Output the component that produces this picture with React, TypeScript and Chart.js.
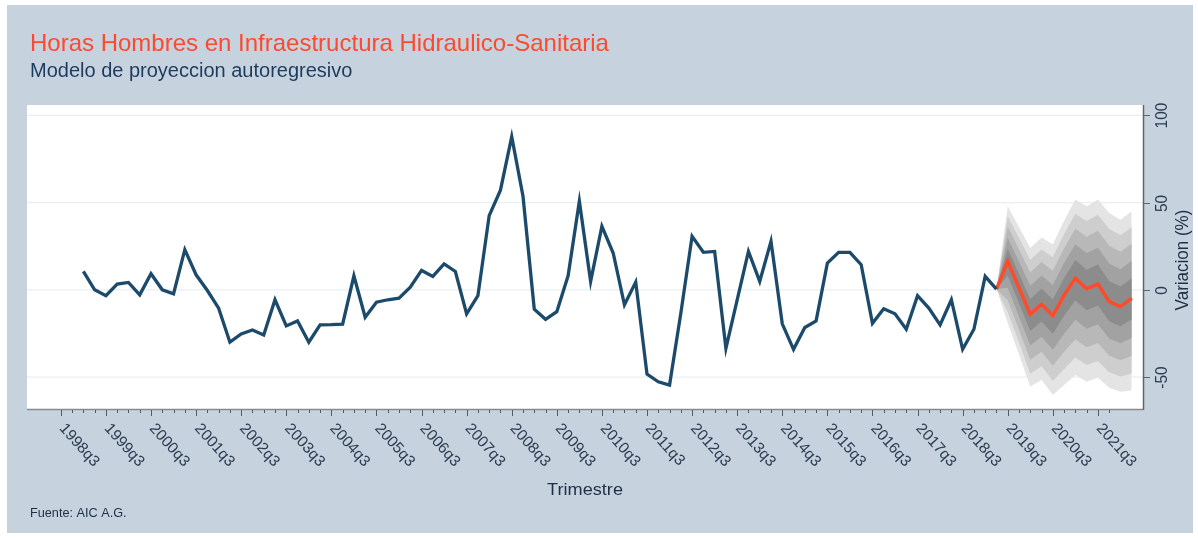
import React, { useEffect, useRef } from "react";
import { Chart, registerables } from "chart.js";

Chart.register(...registerables);

// ---------- texts ----------
const titleText = "Horas Hombres en Infraestructura Hidraulico-Sanitaria";
const subtitleText = "Modelo de proyeccion autoregresivo";
const sourceText = "Fuente: AIC A.G.";
const xAxisTitle = "Trimestre";
const yAxisTitle = "Variacion (%)";

// ---------- axes ----------
const axisStart = "1997q4";
const axisEnd = "2022q3";
const minorTickStart = "1998q3";
const minorTickEnd = "2021q4";
const xTickLabels = [
  "1998q3", "1999q3", "2000q3", "2001q3", "2002q3", "2003q3", "2004q3", "2005q3",
  "2006q3", "2007q3", "2008q3", "2009q3", "2010q3", "2011q3", "2012q3", "2013q3",
  "2014q3", "2015q3", "2016q3", "2017q3", "2018q3", "2019q3", "2020q3", "2021q3",
];
const yTickValues = [-50, 0, 50, 100];
const yMin = -68.3;
const yMax = 105.9;

// ---------- observed series (quarterly, from 1999q1 to 2019q2) ----------
const historyStart = "1999q1";
const historyValues = [
  10.5, 0, -3.4, 3.3, // 1999
  4.2, -2.9, 9.2, 0, // 2000
  -2.3, 23, 8.6, -0.4, // 2001
  -10.5, -30, -25.3, -23, // 2002
  -25.9, -5.7, -20.7, -17.8, // 2003
  -30, -20.1, -20, -19.7, // 2004
  8, -15.7, -7.1, -5.7, // 2005
  -4.8, 1.5, 11.1, 7.7, // 2006
  14.9, 10.5, -13.8, -3.4, // 2007
  42.5, 57.1, 87.7, 53.6, // 2008
  -11.1, -16.9, -12.5, 8, // 2009
  50.8, 4.8, 36.4, 21.1, // 2010
  -8.6, 4.4, -48.3, -52.7, // 2011
  -54.6, -13.4, 30.7, 21.5, // 2012
  22, -33.5, -5.7, 22, // 2013
  4.8, 27.8, -19.5, -34.1, // 2014
  -21.6, -17.8, 15.3, 21.5, // 2015
  21.5, 14.4, -19.2, -10.9, // 2016
  -13.7, -22.6, -3.4, -10.5, // 2017
  -20.1, -5.7, -34.1, -22.6, // 2018
  7.7, 0.4, // 2019
];

// ---------- forecast (from 2019q2 to 2022q2) ----------
const forecastStart = "2019q2";
const forecastValues = [0.4, 16.3, 1.1, -14, -8.2, -14.8, -3, 6.7, 0.6, 3.3, -6.7, -9.6, -4.8];
const fanUpper = [0.4, 47.9, 36, 24, 30, 26, 39.6, 51.7, 47.9, 51.7, 44, 40.2, 45];
const fanLower = [0.4, -19, -37, -55.6, -51.6, -60.3, -54.6, -48.8, -52.7, -50.4, -56.1, -58.4, -57.5];
// share of the outer band half-width, inner to outer
const fanLevels = [0.23, 0.43, 0.63, 0.82, 1];
const fanColors = ["#8c8c8c", "#a2a2a2", "#b8b8b8", "#cecece", "#e4e4e4"];

// ---------- style ----------
const pageBg = "#ffffff";
const panelBg = "#c6d3df";
const historyColor = "#1c4a6b";
const forecastColor = "#ff4b2b";
const titleColor = "#fb4a2d";
const subtitleColor = "#1d3b5e";
const textColor = "#2c3b50";
const STRETCH = 1.1;

function qIndex(label: string): number {
  const [y, q] = label.split("q").map(Number);
  return y * 4 + (q - 1);
}

function drawStretched(
  ctx: CanvasRenderingContext2D,
  text: string,
  x: number,
  y: number,
  rotation = 0,
  sx = STRETCH
) {
  ctx.save();
  ctx.translate(x, y);
  ctx.scale(sx, 1);
  if (rotation) ctx.rotate(rotation);
  ctx.fillText(text, 0, 0);
  ctx.restore();
}

const FONT = "'Liberation Sans', Arial, Helvetica, sans-serif";

const decorPlugin = {
  id: "decor",
  beforeDraw(chart: any) {
    const { ctx, chartArea, scales } = chart;
    ctx.save();
    ctx.fillStyle = pageBg;
    ctx.fillRect(0, 0, chart.width, chart.height);
    ctx.fillStyle = panelBg;
    ctx.fillRect(7, 5, chart.width - 12, chart.height - 10);
    ctx.fillStyle = "#ffffff";
    ctx.fillRect(chartArea.left, chartArea.top, chartArea.right - chartArea.left, chartArea.bottom - chartArea.top);
    // grid lines
    ctx.strokeStyle = "#e8eff3";
    ctx.lineWidth = 1.3;
    for (const v of yTickValues) {
      const y = scales.y.getPixelForValue(v);
      ctx.beginPath();
      ctx.moveTo(chartArea.left, y);
      ctx.lineTo(chartArea.right, y);
      ctx.stroke();
    }
    ctx.restore();
  },
  afterDraw(chart: any) {
    const { ctx, chartArea, scales } = chart;
    const xs = scales.x;
    const ys = scales.y;
    ctx.save();
    // x axis line
    ctx.strokeStyle = "#8a8a8a";
    ctx.lineWidth = 1.5;
    ctx.beginPath();
    ctx.moveTo(chartArea.left, chartArea.bottom + 0.5);
    ctx.lineTo(chartArea.right, chartArea.bottom + 0.5);
    ctx.stroke();
    // x ticks
    ctx.strokeStyle = "#555b63";
    ctx.lineWidth = 1;
    const majorSet = new Set(xTickLabels.map(qIndex));
    for (let q = qIndex(minorTickStart); q <= qIndex(minorTickEnd); q++) {
      const x = Math.round(xs.getPixelForValue(q)) + 0.5;
      const len = majorSet.has(q) ? 6 : 3;
      ctx.beginPath();
      ctx.moveTo(x, chartArea.bottom + 1);
      ctx.lineTo(x, chartArea.bottom + 1 + len);
      ctx.stroke();
    }
    // x labels
    ctx.fillStyle = textColor;
    ctx.font = `15.5px ${FONT}`;
    ctx.textAlign = "left";
    ctx.textBaseline = "middle";
    for (const lab of xTickLabels) {
      const x = xs.getPixelForValue(qIndex(lab));
      drawStretched(ctx, lab, x + 1, chartArea.bottom + 17, (48 * Math.PI) / 180, 1.0);
    }
    // y axis line
    ctx.strokeStyle = "#5f646b";
    ctx.lineWidth = 1.5;
    ctx.beginPath();
    ctx.moveTo(chartArea.right + 0.5, chartArea.top);
    ctx.lineTo(chartArea.right + 0.5, chartArea.bottom + 1);
    ctx.stroke();
    // y ticks and labels
    ctx.lineWidth = 1;
    ctx.font = `15.5px ${FONT}`;
    ctx.textAlign = "center";
    ctx.textBaseline = "middle";
    for (const v of yTickValues) {
      const y = Math.round(ys.getPixelForValue(v)) + 0.5;
      ctx.beginPath();
      ctx.moveTo(chartArea.right, y);
      ctx.lineTo(chartArea.right + 7, y);
      ctx.stroke();
      drawStretched(ctx, String(v), chartArea.right + 19, y, -Math.PI / 2);
    }
    // axis titles
    ctx.fillStyle = "#1f2f45";
    ctx.font = `17px ${FONT}`;
    drawStretched(ctx, yAxisTitle, chartArea.right + 40, (chartArea.top + chartArea.bottom) / 2 + 3, -Math.PI / 2);
    ctx.font = `16.5px ${FONT}`;
    ctx.textBaseline = "alphabetic";
    drawStretched(ctx, xAxisTitle, 585, 495);
    // titles
    ctx.textAlign = "left";
    ctx.fillStyle = titleColor;
    ctx.font = `24px ${FONT}`;
    drawStretched(ctx, titleText, 30, 51, 0, 1.0);
    ctx.fillStyle = subtitleColor;
    ctx.font = `20px ${FONT}`;
    drawStretched(ctx, subtitleText, 30, 77, 0, 1.0);
    ctx.fillStyle = "#1f2f45";
    ctx.font = `12.7px ${FONT}`;
    drawStretched(ctx, sourceText, 30, 517, 0, 1.0);
    ctx.restore();
  },
};

export default function App() {
  const canvasRef = useRef<HTMLCanvasElement | null>(null);

  useEffect(() => {
    const canvas = canvasRef.current;
    if (!canvas) return;
    const hs = qIndex(historyStart);
    const fs = qIndex(forecastStart);

    const bandSets: any[] = [];
    fanLevels.forEach((lvl, k) => {
      bandSets.push({
        data: forecastValues.map((c, i) => ({ x: fs + i, y: c + lvl * (fanUpper[i] - c) })),
        borderColor: "rgba(0,0,0,0)",
        borderWidth: 0,
        pointRadius: 0,
        backgroundColor: fanColors[k],
        fill: "+1",
      });
      bandSets.push({
        data: forecastValues.map((c, i) => ({ x: fs + i, y: c - lvl * (c - fanLower[i]) })),
        borderColor: "rgba(0,0,0,0)",
        borderWidth: 0,
        pointRadius: 0,
        fill: false,
      });
    });

    const chart = new Chart(canvas, {
      type: "line",
      data: {
        datasets: [
          {
            data: historyValues.map((v, i) => ({ x: hs + i, y: v })),
            borderColor: historyColor,
            borderWidth: 3.3,
            pointRadius: 0,
            fill: false,
          },
          {
            data: forecastValues.map((v, i) => ({ x: fs + i, y: v })),
            borderColor: forecastColor,
            borderWidth: 3.5,
            pointRadius: 0,
            fill: false,
          },
          ...bandSets,
        ],
      },
      options: {
        animation: false,
        responsive: false,
        maintainAspectRatio: false,
        devicePixelRatio: 1,
        layout: { padding: { left: 27, right: 55, top: 105, bottom: 129 } },
        plugins: {
          legend: { display: false },
          tooltip: { enabled: false },
          title: { display: false },
        },
        elements: { line: { tension: 0 }, point: { radius: 0 } },
        scales: {
          x: { type: "linear", min: qIndex(axisStart), max: qIndex(axisEnd), display: false },
          y: { type: "linear", min: yMin, max: yMax, display: false },
        },
      },
      plugins: [decorPlugin],
    });
    return () => chart.destroy();
  }, []);

  return (
    <div style={{ position: "fixed", left: 0, top: 0, width: 1198, height: 538 }}>
      <canvas ref={canvasRef} width={1198} height={538} style={{ display: "block" }} />
    </div>
  );
}
